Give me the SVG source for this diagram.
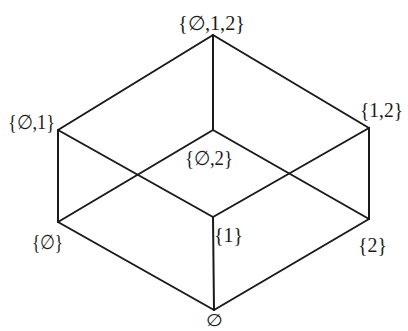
<svg xmlns="http://www.w3.org/2000/svg" width="408" height="331" viewBox="0 0 408 331">
<style>
.e{stroke:#1a1a1a;stroke-width:2;fill:none;stroke-linecap:round}
text{font-family:"Liberation Serif","Times New Roman","DejaVu Serif",serif;font-size:20px;fill:#1a1a1a}
.s{font-size:17px}
</style>
<rect width="408" height="331" fill="#ffffff"/>
<g id="connectors">
<line class="e" x1="213" y1="35" x2="58" y2="130"/>
<line class="e" x1="213" y1="35" x2="369" y2="128"/>
<line class="e" x1="213" y1="35" x2="213" y2="130"/>
<line class="e" x1="58" y1="130" x2="213" y2="217"/>
<line class="e" x1="369" y1="128" x2="213" y2="217"/>
<line class="e" x1="58" y1="130" x2="58" y2="222"/>
<line class="e" x1="369" y1="128" x2="369" y2="219"/>
<line class="e" x1="213" y1="130" x2="58" y2="222"/>
<line class="e" x1="213" y1="130" x2="369" y2="219"/>
<line class="e" x1="213" y1="217" x2="214" y2="310"/>
<line class="e" x1="58" y1="222" x2="214" y2="310"/>
<line class="e" x1="369" y1="219" x2="214" y2="310"/>
</g>
<g id="n012"><text x="178" y="30" textLength="67" lengthAdjust="spacingAndGlyphs">{∅,1,2}</text></g>
<g id="n01"><text x="8" y="129" textLength="47" lengthAdjust="spacingAndGlyphs">{∅,1}</text></g>
<g id="n12"><text x="360" y="117" textLength="43" lengthAdjust="spacingAndGlyphs">{1,2}</text></g>
<g id="n02"><text x="185" y="165" textLength="48" lengthAdjust="spacingAndGlyphs">{∅,2}</text></g>
<g id="n0"><text x="32" y="249" textLength="31" lengthAdjust="spacingAndGlyphs">{∅}</text></g>
<g id="n1"><text x="214" y="242" textLength="29" lengthAdjust="spacingAndGlyphs">{1}</text></g>
<g id="n2"><text x="358" y="252" textLength="29" lengthAdjust="spacingAndGlyphs">{2}</text></g>
<g id="nempty"><text class="s" x="206" y="326" textLength="17" lengthAdjust="spacingAndGlyphs">∅</text></g>
</svg>
